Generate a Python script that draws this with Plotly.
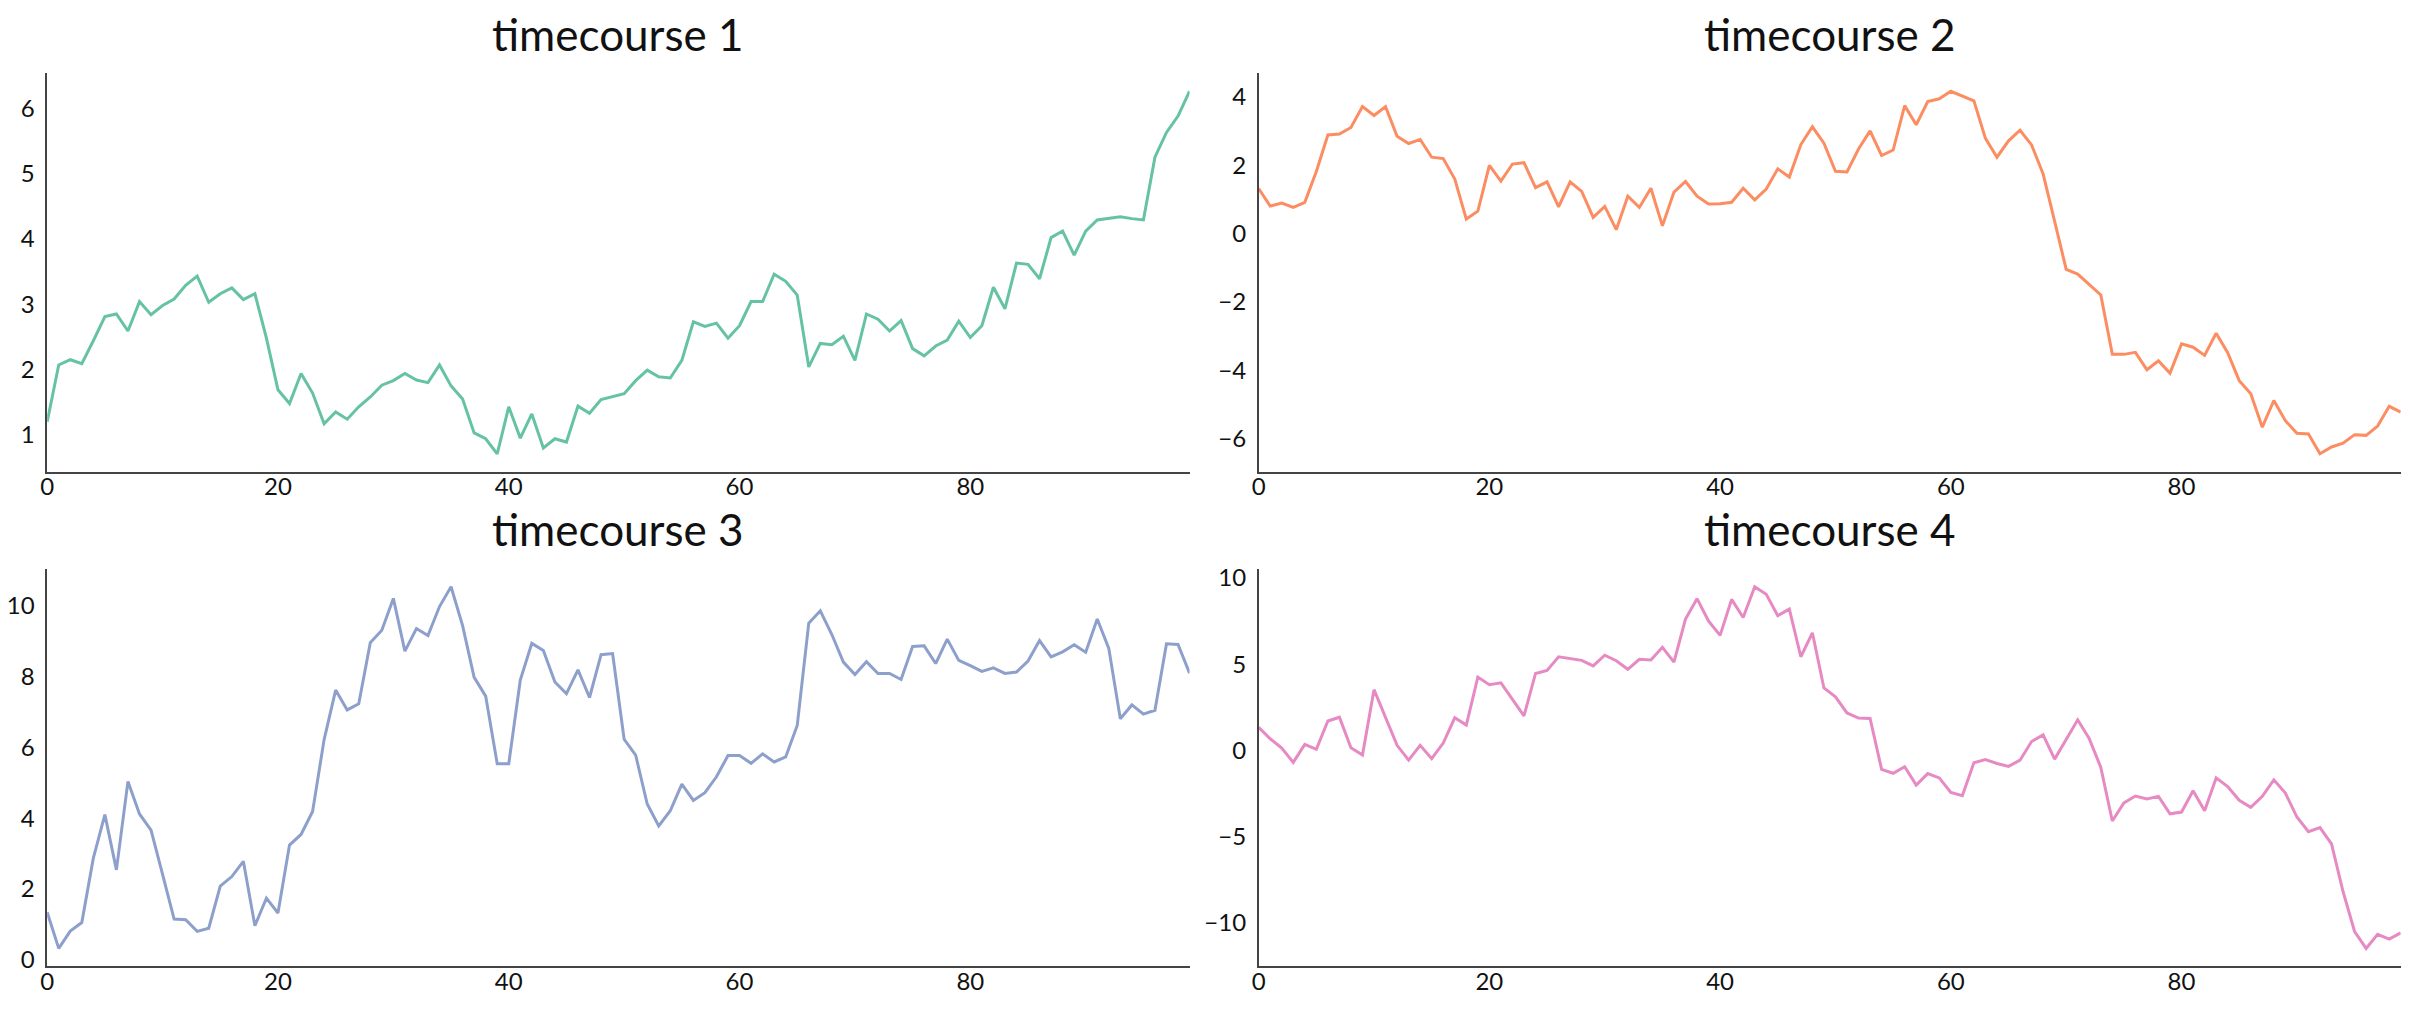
import plotly.graph_objects as go

time_index = list(range(100))

timecourse_1 = [
    1.20, 2.07, 2.15, 2.09, 2.44, 2.81, 2.85, 2.59, 3.04, 2.84,
    2.98, 3.08, 3.29, 3.43, 3.03, 3.16, 3.25, 3.07, 3.16, 2.48,
    1.69, 1.48, 1.94, 1.64, 1.17, 1.35, 1.24, 1.43, 1.58, 1.76,
    1.83, 1.94, 1.84, 1.80, 2.07, 1.75, 1.55, 1.03, 0.94, 0.71,
    1.43, 0.95, 1.32, 0.80, 0.94, 0.89, 1.44, 1.33, 1.54, 1.59,
    1.63, 1.83, 1.99, 1.89, 1.87, 2.14, 2.73, 2.66, 2.71, 2.48,
    2.67, 3.04, 3.04, 3.46, 3.35, 3.14, 2.04, 2.40, 2.38, 2.51,
    2.14, 2.85, 2.77, 2.59, 2.75, 2.32, 2.21, 2.36, 2.45, 2.74,
    2.49, 2.67, 3.26, 2.93, 3.63, 3.61, 3.39, 4.02, 4.12, 3.75,
    4.12, 4.29, 4.31, 4.34, 4.31, 4.29, 5.25, 5.63, 5.88, 6.26,
]

timecourse_2 = [
    1.32, 0.81, 0.90, 0.77, 0.92, 1.82, 2.89, 2.92, 3.11, 3.72,
    3.46, 3.72, 2.85, 2.64, 2.76, 2.24, 2.20, 1.60, 0.43, 0.66,
    2.00, 1.54, 2.04, 2.08, 1.35, 1.52, 0.79, 1.52, 1.24, 0.48,
    0.80, 0.12, 1.10, 0.77, 1.33, 0.23, 1.22, 1.53, 1.10, 0.87,
    0.88, 0.92, 1.33, 0.99, 1.31, 1.90, 1.66, 2.61, 3.13, 2.65,
    1.83, 1.81, 2.48, 3.01, 2.29, 2.45, 3.75, 3.19, 3.87, 3.95,
    4.17, 4.02, 3.89, 2.79, 2.24, 2.72, 3.03, 2.60, 1.75, 0.36,
    -1.04, -1.18, -1.50, -1.79, -3.53, -3.53, -3.47, -3.98, -3.72, -4.08,
    -3.22, -3.32, -3.56, -2.91, -3.48, -4.30, -4.68, -5.66, -4.88, -5.47,
    -5.84, -5.86, -6.44, -6.24, -6.13, -5.88, -5.90, -5.63, -5.05, -5.22,
]

timecourse_3 = [
    1.34, 0.32, 0.81, 1.05, 2.87, 4.10, 2.54, 5.04, 4.12, 3.66,
    2.41, 1.15, 1.13, 0.80, 0.89, 2.08, 2.35, 2.78, 0.96, 1.74,
    1.32, 3.24, 3.54, 4.19, 6.22, 7.62, 7.06, 7.23, 8.96, 9.31,
    10.21, 8.72, 9.36, 9.16, 9.98, 10.54, 9.44, 7.98, 7.45, 5.54,
    5.54, 7.90, 8.94, 8.74, 7.85, 7.52, 8.19, 7.41, 8.62, 8.65,
    6.23, 5.78, 4.40, 3.78, 4.21, 4.96, 4.50, 4.72, 5.17, 5.77,
    5.77, 5.55, 5.82, 5.59, 5.73, 6.62, 9.51, 9.86, 9.19, 8.41,
    8.06, 8.42, 8.09, 8.09, 7.92, 8.85, 8.87, 8.37, 9.06, 8.46,
    8.31, 8.15, 8.25, 8.09, 8.13, 8.44, 9.02, 8.56, 8.70, 8.90,
    8.69, 9.63, 8.80, 6.81, 7.20, 6.94, 7.05, 8.93, 8.91, 8.10,
]

timecourse_4 = [
    1.33, 0.67, 0.13, -0.70, 0.34, 0.06, 1.70, 1.92, 0.15, -0.27,
    3.52, 1.90, 0.29, -0.57, 0.29, -0.48, 0.42, 1.89, 1.47, 4.25,
    3.81, 3.92, 2.95, 2.00, 4.46, 4.63, 5.43, 5.33, 5.22, 4.90,
    5.52, 5.20, 4.70, 5.28, 5.24, 5.98, 5.12, 7.62, 8.80, 7.50,
    6.67, 8.76, 7.71, 9.49, 9.05, 7.81, 8.19, 5.43, 6.82, 3.62,
    3.10, 2.17, 1.87, 1.85, -1.10, -1.33, -0.95, -2.02, -1.35, -1.60,
    -2.44, -2.63, -0.72, -0.53, -0.76, -0.93, -0.57, 0.51, 0.90, -0.51,
    0.65, 1.77, 0.67, -0.99, -4.10, -3.05, -2.65, -2.82, -2.67, -3.68,
    -3.58, -2.34, -3.50, -1.60, -2.10, -2.90, -3.31, -2.67, -1.71, -2.48,
    -3.87, -4.72, -4.48, -5.43, -8.19, -10.51, -11.49, -10.67, -10.95, -10.59,
]

titles = ["timecourse 1", "timecourse 2", "timecourse 3", "timecourse 4"]
series = [timecourse_1, timecourse_2, timecourse_3, timecourse_4]
colors = ["#66c2a5", "#fc8d62", "#8da0cb", "#e78ac3"]
x_ticks = [0, 20, 40, 60, 80]
y_ticks = [
    [1, 2, 3, 4, 5, 6],
    [-6, -4, -2, 0, 2, 4],
    [0, 2, 4, 6, 8, 10],
    [-10, -5, 0, 5, 10],
]

W, H = 2411, 1011
x_domains = [[40.3 / W, 1186.0 / W], [1255.3 / W, 2400.7 / W]]
y_domains = [[(H - 472) / H, (H - 68) / H], [(H - 973) / H, (H - 570) / H]]

FONT = "Lato, Open Sans, sans-serif"

fig = go.Figure()
layout = dict(
    width=W, height=H,
    margin=dict(l=0, r=0, t=0, b=0),
    paper_bgcolor="white", plot_bgcolor="white",
    showlegend=False,
    font=dict(family=FONT, color="#111111"),
    annotations=[],
)

for k in range(4):
    row, col = divmod(k, 2)
    n = k + 1
    xa = "x" if n == 1 else f"x{n}"
    ya = "y" if n == 1 else f"y{n}"
    vals = series[k]
    lo, hi = min(vals), max(vals)
    pad = 0.05 * (hi - lo)
    fig.add_trace(go.Scatter(
        x=time_index, y=vals, mode="lines",
        line=dict(color=colors[k], width=3),
        xaxis=xa, yaxis=ya, hoverinfo="skip",
    ))
    axis_common = dict(
        showgrid=False, zeroline=False, showline=True,
        linecolor="#444444", linewidth=1.5, ticks="", ticklen=0,
        tickfont=dict(family=FONT, size=24, color="#111111"),
    )
    layout["xaxis" if n == 1 else f"xaxis{n}"] = dict(
        axis_common, domain=x_domains[col], anchor=ya,
        range=[0, 99], tickvals=x_ticks, ticklabelstandoff=-7,
    )
    layout["yaxis" if n == 1 else f"yaxis{n}"] = dict(
        axis_common, domain=y_domains[row], anchor=xa,
        range=[lo - pad, hi + pad], tickvals=y_ticks[k], ticklabelstandoff=6,
    )
    xd = x_domains[col]
    yd = y_domains[row]
    layout["annotations"].append(dict(
        text=titles[k], xref="paper", yref="paper",
        x=(xd[0] + xd[1]) / 2, y=yd[1] + 40 / H,
        xanchor="center", yanchor="middle", showarrow=False,
        font=dict(family=FONT, size=44, color="#111111"),
    ))

fig.update_layout(**layout)
fig.write_html("out.html")
